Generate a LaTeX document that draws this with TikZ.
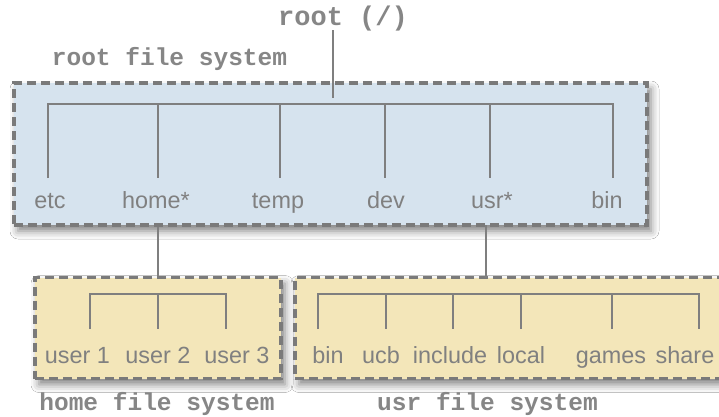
\documentclass[tikz,border=0pt]{standalone}
\usepackage{fontspec}
\setmainfont{Liberation Sans}
\newfontfamily\monof{Liberation Mono}
\usetikzlibrary{shadows.blur}
\definecolor{lbl}{HTML}{808080}
\definecolor{edgec}{HTML}{7A7A7A}
\definecolor{treec}{HTML}{7F7F7F}
\definecolor{bluefill}{HTML}{D6E3EE}
\definecolor{yelfill}{HTML}{F3E6B9}
\tikzset{
  fsbox/.style={draw=edgec, line width=3.5pt, dash pattern=on 9pt off 5pt,
    inner sep=0pt, blur shadow={shadow xshift=4pt, shadow yshift=-6pt,
    shadow blur radius=8pt, shadow opacity=50}},
  lab/.style={text=lbl, font=\fontsize{23.4}{27}\selectfont, inner sep=0pt, anchor=base},
  monolab/.style={text=lbl!95!white, font=\monof\bfseries\fontsize{24.5}{28}\selectfont, inner sep=0pt, anchor=base},
  tree/.style={draw=treec, line width=2.6pt},
  conn/.style={draw=treec, line width=1.4pt}
}
\begin{document}
\begin{tikzpicture}[x=1pt,y=-1pt]
\useasboundingbox (0,0) rectangle (719,416);
\fill[white] (0,0) rectangle (719,416);
% boxes
\node[fsbox, fill=bluefill, minimum width=633pt, minimum height=142pt] (rootfs) at (330.5,154) {};
\node[fsbox, fill=yelfill, minimum width=246pt, minimum height=101pt] (homefs) at (158,328) {};
\node[fsbox, fill=yelfill, minimum width=445pt, minimum height=101pt] (usrfs) at (517.5,328) {};
% titles
\node[monolab, font=\monof\bfseries\fontsize{27}{30}\selectfont] (root) at (343,25) {root (/)};
\node[monolab] (rootfst) at (169.5,65) {root file system};
\node[monolab] (homefst) at (157,410) {home file system};
\node[monolab] (usrfst) at (487.5,410) {usr file system};
% root link
\coordinate (rlT) at (333,30);
\coordinate (rlB) at (333,98);
\draw[conn] (rlT) -- (rlB);
% root tree
\foreach \n/\x in {a/48,b/158,c/280,d/385,e/490,f/613}{
  \coordinate (r\n t) at (\x,104);
  \coordinate (r\n b) at (\x,178);
}
\draw[tree] (rab) -- (rat) -- (rft) -- (rfb);
\foreach \n in {b,c,d,e}{ \draw[tree] (r\n t) -- (r\n b); }
\node[lab] (etc) at (50,208) {etc};
\node[lab] (home) at (156,208) {home*};
\node[lab] (temp) at (278,208) {temp};
\node[lab] (dev) at (386,208) {dev};
\node[lab] (usr) at (492,208) {usr*};
\node[lab] (bin) at (607,208) {bin};
% connectors to sub file systems
\draw[conn] (rootfs.south -| homefs.north) -- (homefs.north);
\coordinate (usrcT) at (486,225);
\coordinate (usrcB) at (486,277.5);
\draw[conn] (usrcT) -- (usrcB);
% home tree
\foreach \n/\x in {a/90,b/158,c/226}{
  \coordinate (h\n t) at (\x,294);
  \coordinate (h\n b) at (\x,329);
}
\draw[tree] (hab) -- (hat) -- (hct) -- (hcb);
\draw[tree] (hbt) -- (hbb);
\node[lab] (u1) at (77.5,363) {user 1};
\node[lab] (u2) at (158,363) {user 2};
\node[lab] (u3) at (237,363) {user 3};
% usr tree
\foreach \n/\x in {a/318,b/386,c/453,d/521,e/612,f/699}{
  \coordinate (s\n t) at (\x,294);
  \coordinate (s\n b) at (\x,329);
}
\draw[tree] (sab) -- (sat) -- (sft) -- (sfb);
\foreach \n in {b,c,d,e}{ \draw[tree] (s\n t) -- (s\n b); }
\node[lab] (ubin) at (328,363) {bin};
\node[lab] (ucb) at (381,363) {ucb};
\node[lab] (inc) at (450,363) {include};
\node[lab] (loc) at (521,363) {local};
\node[lab] (gam) at (611,363) {games};
\node[lab] (sha) at (685,363) {share};
\end{tikzpicture}
\end{document}
